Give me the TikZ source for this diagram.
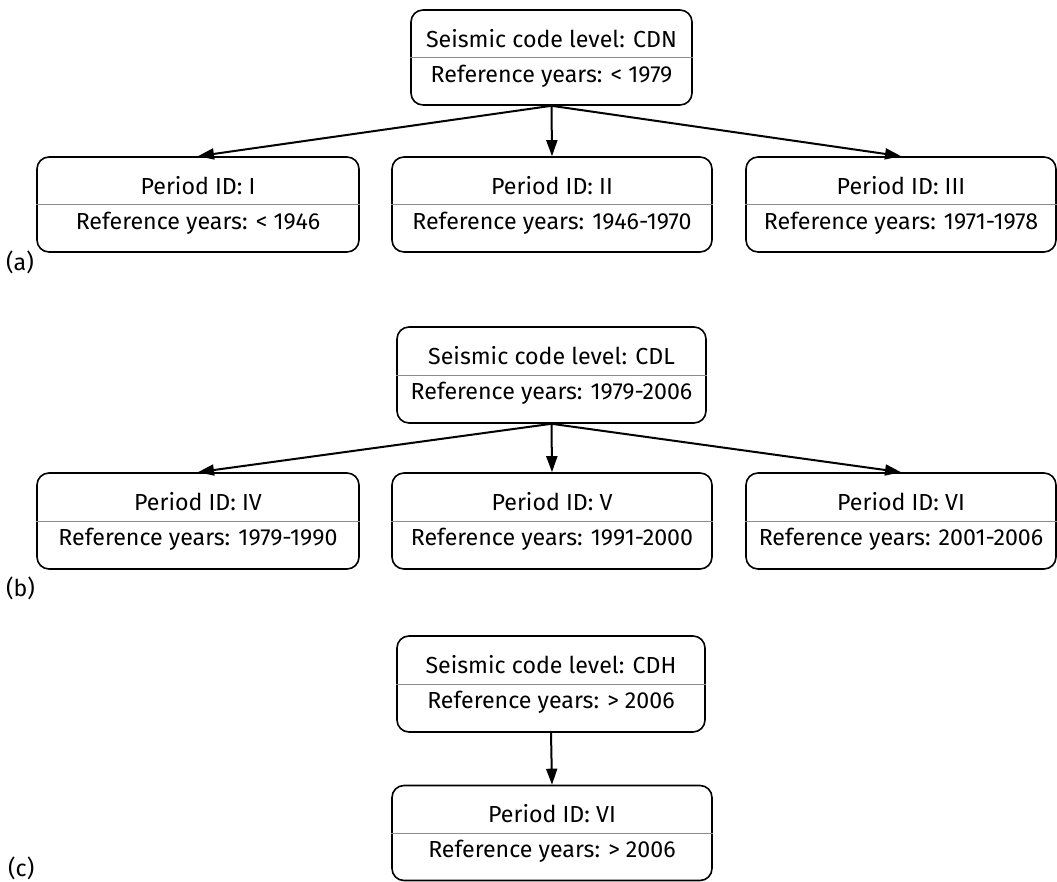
\documentclass[tikz,border=0pt]{standalone}
\usepackage{fontspec}
\setmainfont{Fira Sans}
\usetikzlibrary{arrows.meta}
\tikzset{%
  lvl/.style={draw,rounded corners=12pt,line width=1.6pt,minimum height=95pt,inner sep=0pt},
  txt/.style={anchor=base,inner sep=0pt,font=\fontsize{23.2}{27}\selectfont},
  sep/.style={draw=black!45,line width=0.9pt},
  tree/.style={line width=2pt,-{Triangle[length=16pt,width=11pt]}}
}

\begin{document}
\begin{tikzpicture}[x=1pt,y=1pt]
    \useasboundingbox (0,0) rectangle (1057,882);
    % (a)
    \path
      (551.5,824.5) node (cdn)[lvl,minimum width=281pt]{}
      (198,677.5) node (p1)[lvl,minimum width=322pt]{}
      (552,677.5) node (p2)[lvl,minimum width=320pt]{}
      (901,677.5) node (p3)[lvl,minimum width=310pt]{};
    \node (cdna)[txt] at ([yshift=10pt]cdn.center) {Seismic code level: CDN};
    \node (cdnb)[txt] at ([yshift=-25pt]cdn.center) {Reference years: < 1979};
    \node (p1a)[txt] at ([yshift=10pt]p1.center) {Period ID: I};
    \node (p1b)[txt] at ([yshift=-25pt]p1.center) {Reference years: < 1946};
    \node (p2a)[txt] at ([yshift=10pt]p2.center) {Period ID: II};
    \node (p2b)[txt] at ([yshift=-25pt]p2.center) {Reference years: 1946-1970};
    \node (p3a)[txt] at ([yshift=10pt]p3.center) {Period ID: III};
    \node (p3b)[txt] at ([yshift=-25pt]p3.center) {Reference years: 1971-1978};
    \node (la)[txt,anchor=base west] at (6,611) {(a)};
    \draw[sep] (cdn.west) -- (cdn.east);
    \draw[sep] (p1.west) -- (p1.east);
    \draw[sep] (p2.west) -- (p2.east);
    \draw[sep] (p3.west) -- (p3.east);
    \draw[tree] (cdn.south) -- (p1.north);
    \draw[tree] (cdn.south) -- (p2.north);
    \draw[tree] (cdn.south) -- (p3.north);
    % (b)
    \path
      (551.5,507) node (cdl)[lvl,minimum width=309pt,minimum height=96pt]{}
      (198,361) node (p4)[lvl,minimum width=322pt,minimum height=96pt]{}
      (552,361) node (p5)[lvl,minimum width=320pt,minimum height=96pt]{}
      (901,361) node (p6)[lvl,minimum width=310pt,minimum height=96pt]{};
    \node (cdla)[txt] at ([yshift=10pt]cdl.center) {Seismic code level: CDL};
    \node (cdlb)[txt] at ([yshift=-25pt]cdl.center) {Reference years: 1979-2006};
    \node (p4a)[txt] at ([yshift=10pt]p4.center) {Period ID: IV};
    \node (p4b)[txt] at ([yshift=-25pt]p4.center) {Reference years: 1979-1990};
    \node (p5a)[txt] at ([yshift=10pt]p5.center) {Period ID: V};
    \node (p5b)[txt] at ([yshift=-25pt]p5.center) {Reference years: 1991-2000};
    \node (p6a)[txt] at ([yshift=10pt]p6.center) {Period ID: VI};
    \node (p6b)[txt] at ([yshift=-25pt]p6.center) {Reference years: 2001-2006};
    \node (lb)[txt,anchor=base west] at (6,285) {(b)};
    \draw[sep] (cdl.west) -- (cdl.east);
    \draw[sep] (p4.west) -- (p4.east);
    \draw[sep] (p5.west) -- (p5.east);
    \draw[sep] (p6.west) -- (p6.east);
    \draw[tree] (cdl.south) -- (p4.north);
    \draw[tree] (cdl.south) -- (p5.north);
    \draw[tree] (cdl.south) -- (p6.north);
    % (c)
    \path
      (551,198) node (cdh)[lvl,minimum width=308pt,minimum height=96pt]{}
      (552,49) node (p7)[lvl,minimum width=320pt]{};
    \node (cdha)[txt] at ([yshift=10pt]cdh.center) {Seismic code level: CDH};
    \node (cdhb)[txt] at ([yshift=-25pt]cdh.center) {Reference years: > 2006};
    \node (p7a)[txt] at ([yshift=10pt]p7.center) {Period ID: VI};
    \node (p7b)[txt] at ([yshift=-25pt]p7.center) {Reference years: > 2006};
    \node (lc)[txt,anchor=base west] at (8,5.5) {(c)};
    \draw[sep] (cdh.west) -- (cdh.east);
    \draw[sep] (p7.west) -- (p7.east);
    \draw[tree] (cdh.south) -- (p7.north);
  \end{tikzpicture}
\end{document}
